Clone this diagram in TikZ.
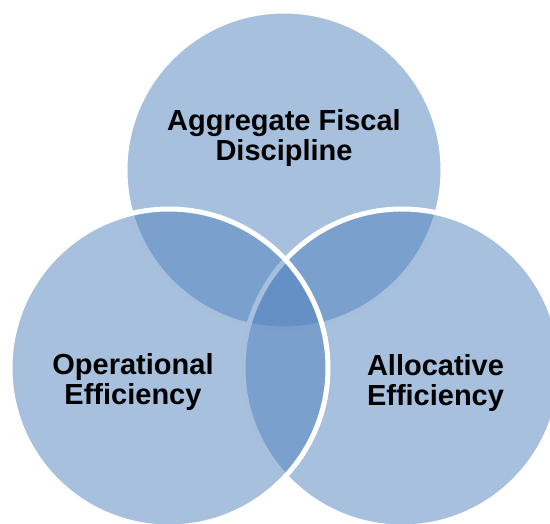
\documentclass[tikz,border=0pt]{standalone}
\usepackage{fontspec}
\setmainfont{Liberation Sans}
\definecolor{vennblue}{RGB}{79,129,189}
\tikzset{
  venn/.style={circle, minimum size=318pt, inner sep=0pt, fill=vennblue, fill opacity=0.5, draw=white, draw opacity=1, line width=5pt},
  vlabel/.style={align=center, inner sep=0pt, text=black, font=\bfseries\fontsize{29}{30}\selectfont}
}
\begin{document}
\begin{tikzpicture}[x=1pt,y=-1pt]
  \useasboundingbox (0,0) rectangle (550,524);
  \clip (0,0) rectangle (550,524);
  \node[venn] (top) at (284,170) {};
  \node[venn] (right) at (402,368) {};
  \node[venn] (left) at (169,368) {};
  \node[vlabel] (ltop) at (284,138.5) {Aggregate Fiscal\\Discipline};
  \node[vlabel] (lleft) at (133,382.5) {Operational\\Efficiency};
  \node[vlabel] (lright) at (435.5,383) {Allocative\\Efficiency};
\end{tikzpicture}
\end{document}
